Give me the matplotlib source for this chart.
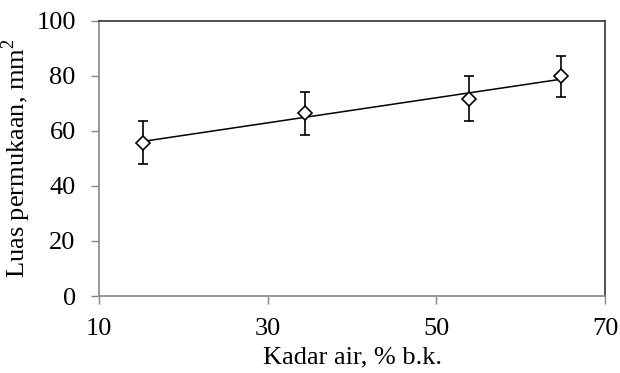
import numpy as np
import matplotlib
matplotlib.use("Agg")
import matplotlib.pyplot as plt

# ============================================================
# Data
# ============================================================

kadar_air = [15.2, 34.4, 53.9, 64.8]
luas = [55.7, 66.4, 71.7, 79.8]
luas_err = [7.7, 7.8, 8.2, 7.4]

x_ticks = [10, 30, 50, 70]
y_ticks = [0, 20, 40, 60, 80, 100]

# ============================================================
# Plot
# ============================================================

plt.rcParams["font.family"] = ["Liberation Serif", "DejaVu Serif"]
plt.rcParams["mathtext.fontset"] = "custom"
plt.rcParams["mathtext.rm"] = "Liberation Serif"

fig = plt.figure(figsize=(6.2, 3.73), dpi=100)
ax = fig.add_axes([0.1597, 0.2064, 0.8161, 0.7381])

# linear trendline
coef = np.polyfit(kadar_air, luas, 1)
xs = np.array([kadar_air[0], kadar_air[-1]])
ax.plot(xs, np.polyval(coef, xs), color="black", lw=1.1, zorder=2)

ax.errorbar(kadar_air, luas, yerr=luas_err, fmt="D", ms=7.5,
            mfc="white", mec="black", mew=1.2, ecolor="black",
            elinewidth=1.2, capsize=3.8, capthick=1.2, zorder=3)

ax.set_xlim(10, 70)
ax.set_ylim(0, 100)
ax.set_xticks(x_ticks)
ax.set_yticks(y_ticks)

for side in ("left", "bottom"):
    ax.spines[side].set_color("#868686")
    ax.spines[side].set_linewidth(1.2)
for side in ("top", "right"):
    ax.spines[side].set_color("#333333")
    ax.spines[side].set_linewidth(1.2)

ax.tick_params(direction="out", length=5.8, width=1.0, color="#868686",
               labelsize=19)
ax.tick_params(axis="x", pad=10)
ax.tick_params(axis="y", pad=11)

ax.set_xlabel("Kadar air, % b.k.", fontsize=19)
ax.set_ylabel("Luas permukaan, mm$^\\mathrm{2}$", fontsize=19)
ax.xaxis.set_label_coords(0.5, -0.185)
ax.yaxis.set_label_coords(-0.13, 0.5)

fig.savefig("out.png", dpi=100)
